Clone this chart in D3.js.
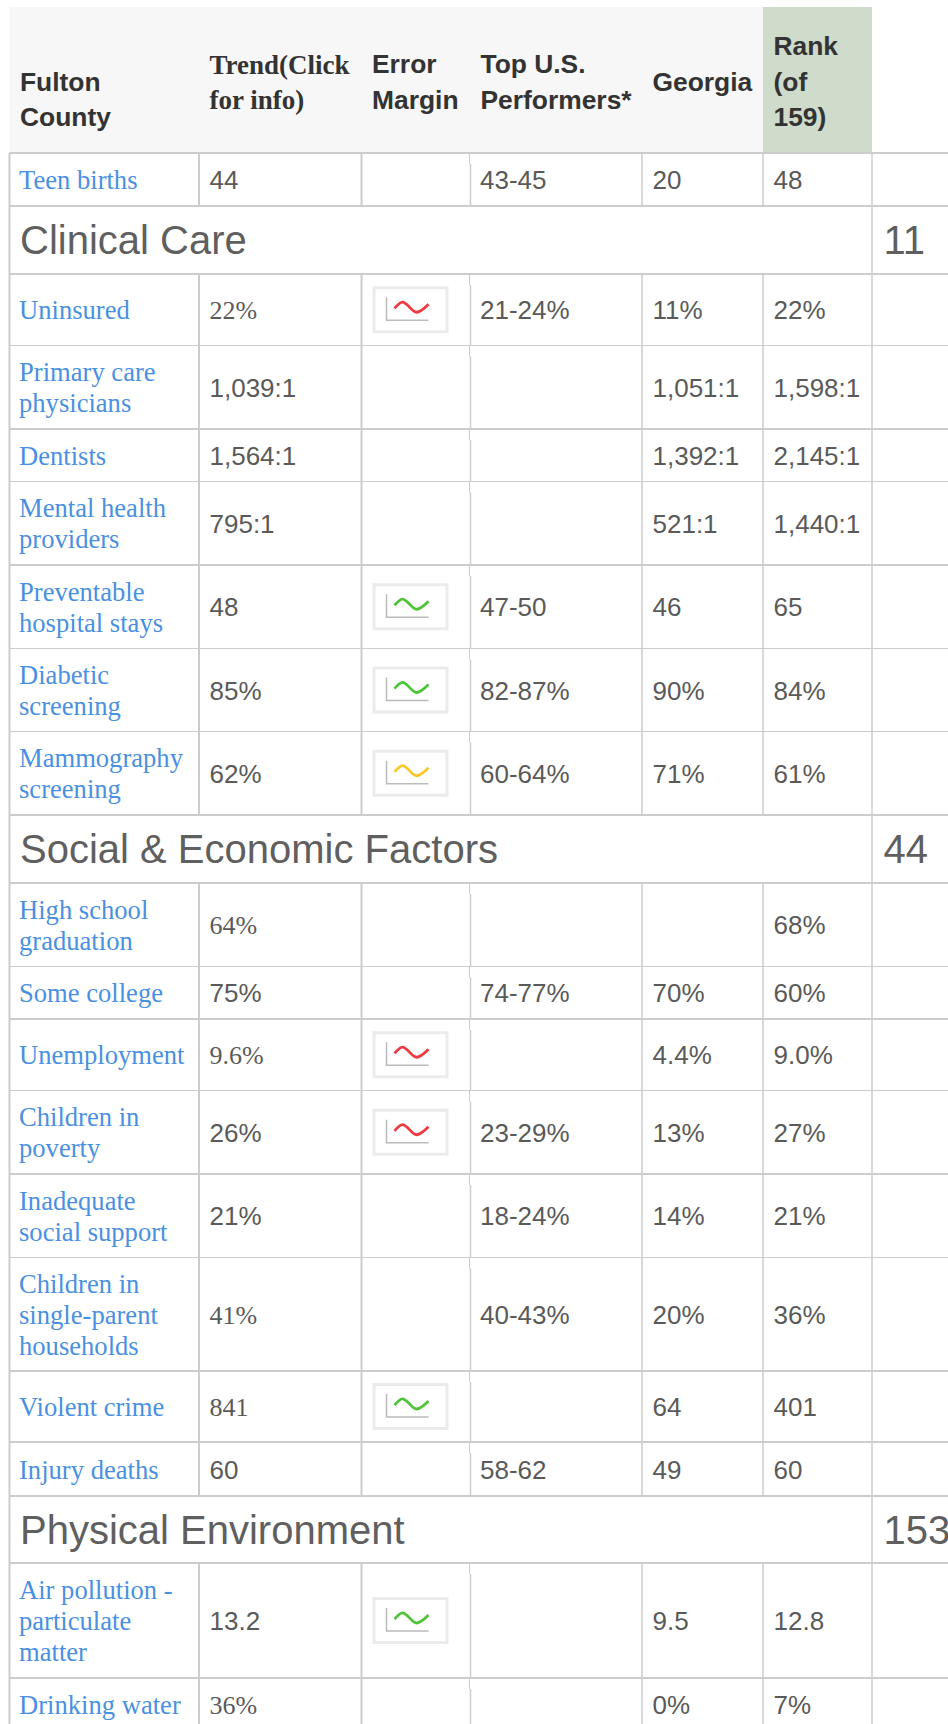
<!DOCTYPE html>
<html>
<head>
<meta charset="utf-8">
<script src="https://cdn.jsdelivr.net/npm/d3@7"></script>
<style>
  html, body { margin: 0; padding: 0; background: #fff; overflow: hidden; }
  text { font-family: "Liberation Sans", sans-serif; font-size: 26px; }
  .serif { font-family: "Liberation Serif", serif; font-size: 26.6px; }
  .head { font-weight: bold; fill: #333; font-size: 26.4px; }
  .head.serif { font-size: 27px; }
  .label { fill: #4a90e2; }
  .value { fill: #5a5a5a; }
  .value.serif { font-size: 26px; }
  .section { font-size: 40px; fill: #5f5f5f; }
</style>
</head>
<body>
<div id="chart"></div>
<script>
// Table content
const headers = [
  ["", "Fulton", "County"],
  ["Trend(Click", "for info)"],
  ["Error", "Margin"],
  ["Top U.S.", "Performers*"],
  ["Georgia"],
  ["Rank", "(of", "159)"]
];
const serifHeaders = [1];

const sections = { "Clinical Care": "11", "Social & Economic Factors": "44", "Physical Environment": "153" };

const rowLabels = [
  ["Teen births"],
  ["Clinical Care"],
  ["Uninsured"],
  ["Primary care", "physicians"],
  ["Dentists"],
  ["Mental health", "providers"],
  ["Preventable", "hospital stays"],
  ["Diabetic", "screening"],
  ["Mammography", "screening"],
  ["Social & Economic Factors"],
  ["High school", "graduation"],
  ["Some college"],
  ["Unemployment"],
  ["Children in", "poverty"],
  ["Inadequate", "social support"],
  ["Children in", "single-parent", "households"],
  ["Violent crime"],
  ["Injury deaths"],
  ["Physical Environment"],
  ["Air pollution -", "particulate", "matter"],
  ["Drinking water"]
];
const countyValues = ["44", "", "22%", "1,039:1", "1,564:1", "795:1", "48", "85%", "62%", "", "64%", "75%", "9.6%", "26%", "21%", "41%", "841", "60", "", "13.2", "36%"];
const serifValues = ["22%", "64%", "9.6%", "41%", "841", "36%"];
const trends = ["", "", "bad", "", "", "", "good", "good", "mid", "", "", "", "bad", "bad", "", "", "good", "", "", "good", ""];
const margins = ["43-45", "", "21-24%", "", "", "", "47-50", "82-87%", "60-64%", "", "", "74-77%", "", "23-29%", "18-24%", "40-43%", "", "58-62", "", "", ""];
const georgia = ["20", "", "11%", "1,051:1", "1,392:1", "521:1", "46", "90%", "71%", "", "", "70%", "4.4%", "13%", "14%", "20%", "64", "49", "", "9.5", "0%"];
const rank = ["48", "", "22%", "1,598:1", "2,145:1", "1,440:1", "65", "84%", "61%", "", "68%", "60%", "9.0%", "27%", "21%", "36%", "401", "60", "", "12.8", "7%"];

// shape of the little trend thumbnail
const trendSteps = [0, 8, 22, 34];
const trendShape = [2.2, 3.8, 1.25, 3.25];

// layout
const width = 948, height = 1724;
const colEdges = [9.5, 199, 361.5, 470, 642, 763, 872, 948];
const headerTop = 7, headerBottom = 153;
const rowHeights = [53, 68, 71.5, 83.5, 52.5, 83.5, 83.5, 83, 83.5, 68, 83.5, 52.5, 71.5, 83.5, 83.5, 113.5, 71, 54, 67, 115, 53];
const lineGap = 31, headGap = 35.5, pad = 10.5;

const svg = d3.select("#chart").append("svg")
  .attr("width", width)
  .attr("height", height)
  .style("display", "block");

const defs = svg.append("defs");
defs.append("filter").attr("id", "soft").append("feGaussianBlur").attr("stdDeviation", 0.65);

// header
svg.append("rect").attr("x", colEdges[0]).attr("y", headerTop)
  .attr("width", colEdges[6] - colEdges[0]).attr("height", headerBottom - headerTop).attr("fill", "#f7f7f7");
svg.append("rect").attr("x", colEdges[5]).attr("y", headerTop)
  .attr("width", colEdges[6] - colEdges[5]).attr("height", headerBottom - headerTop).attr("fill", "#cfdccc");

const headerCenter = 82.5;
svg.selectAll(".head").data(headers).join("text")
  .attr("class", (d, i) => serifHeaders.includes(i) ? "head serif" : "head")
  .each(function(lines, i) {
    const serif = serifHeaders.includes(i);
    d3.select(this).selectAll("tspan").data(lines).join("tspan")
      .attr("x", colEdges[i] + pad)
      .attr("y", (l, k) => headerCenter + (k - (lines.length - 1) / 2) * headGap + (serif ? 9 : 8.4))
      .text(l => l);
  });

// row tops
const rowTops = d3.cumsum([headerBottom].concat(rowHeights));
const rows = rowLabels.map((lines, i) => ({
  lines, i, top: rowTops[i], h: rowHeights[i], mid: rowTops[i] + rowHeights[i] / 2,
  isSection: lines[0] in sections
}));

// grid, half pixel rows come out as the thin lines in the reference
const grid = svg.append("g").attr("stroke", "#ccc").attr("fill", "none");
grid.selectAll(".hline").data(rowTops).join("line")
  .attr("x1", colEdges[0]).attr("x2", width)
  .attr("y1", d => d).attr("y2", d => d)
  .attr("stroke-width", d => d % 1 ? 1 : 2);
grid.append("line").attr("x1", colEdges[0]).attr("x2", colEdges[0])
  .attr("y1", headerBottom).attr("y2", height).attr("stroke-width", 2);
grid.append("line").attr("x1", colEdges[6]).attr("x2", colEdges[6])
  .attr("y1", headerBottom).attr("y2", height).attr("stroke-width", 1.5);
rows.filter(r => !r.isSection).forEach(r => {
  colEdges.slice(1, 6).forEach((x, k) => {
    if (k === 2) {
      // this column's border steps sideways just under the row line
      grid.append("line").attr("x1", x - 0.5).attr("x2", x - 0.5)
        .attr("y1", r.top).attr("y2", r.top + 11).attr("stroke-width", 1);
      grid.append("line").attr("x1", x + 0.5).attr("x2", x + 0.5)
        .attr("y1", r.top + 11).attr("y2", r.top + r.h).attr("stroke-width", 1.5);
    } else {
      grid.append("line").attr("x1", x).attr("x2", x)
        .attr("y1", r.top).attr("y2", r.top + r.h).attr("stroke-width", k < 2 ? 2 : 1.5);
    }
  });
});

// rows
const rowG = svg.selectAll(".row").data(rows).join("g").attr("class", "row");

rowG.filter(r => r.isSection).each(function(r) {
  const g = d3.select(this);
  g.append("text").attr("class", "section").attr("x", 20).attr("y", r.mid + 14).text(r.lines[0]);
  g.append("text").attr("class", "section").attr("x", colEdges[6] + 11.5).attr("y", r.mid + 14).text(sections[r.lines[0]]);
});

const valueCols = [
  { col: 1, values: countyValues },
  { col: 3, values: margins },
  { col: 4, values: georgia },
  { col: 5, values: rank }
];

const trendColor = d3.scaleOrdinal().domain(["bad", "good", "mid"]).range(["#ee3a43", "#4fc437", "#fcc72c"]);
const sparkX = d3.scaleLinear().domain([0, 34]).range([22, 56]);
const sparkY = d3.scaleLinear().domain([0, 5]).range([31, 11]);
const sparkLine = d3.line().x((d, i) => sparkX(trendSteps[i])).y(d => sparkY(d)).curve(d3.curveMonotoneX);

rowG.filter(r => !r.isSection).each(function(r) {
  const g = d3.select(this);
  g.append("text").attr("class", "label serif")
    .selectAll("tspan").data(r.lines).join("tspan")
    .attr("x", colEdges[0] + pad - 1)
    .attr("y", (l, k) => r.mid + (k - (r.lines.length - 1) / 2) * lineGap + 9.5)
    .text(l => l);

  valueCols.forEach(c => {
    const v = c.values[r.i];
    if (!v) return;
    const serif = c.col === 1 && serifValues.includes(v);
    g.append("text").attr("class", serif ? "value serif" : "value")
      .attr("x", colEdges[c.col] + pad - (c.col === 3 ? 0.5 : 0))
      .attr("y", r.mid + 9.6)
      .text(v);
  });

  const t = trends[r.i];
  if (t) {
    const spark = g.append("g")
      .attr("transform", `translate(${colEdges[2] + 11},${r.mid - 23.5})`)
      .attr("filter", "url(#soft)");
    spark.append("rect").attr("x", 1.5).attr("y", 1.5).attr("width", 73).attr("height", 44)
      .attr("fill", "#fff").attr("stroke", "#ebebeb").attr("stroke-width", 3);
    spark.append("path").attr("d", "M14,11V34H56").attr("fill", "none").attr("stroke", "#bbb").attr("stroke-width", 1.5);
    spark.append("path").attr("d", sparkLine(trendShape)).attr("fill", "none")
      .attr("stroke", trendColor(t)).attr("stroke-width", 2.8).attr("stroke-linejoin", "round");
  }
});
</script>
</body>
</html>
